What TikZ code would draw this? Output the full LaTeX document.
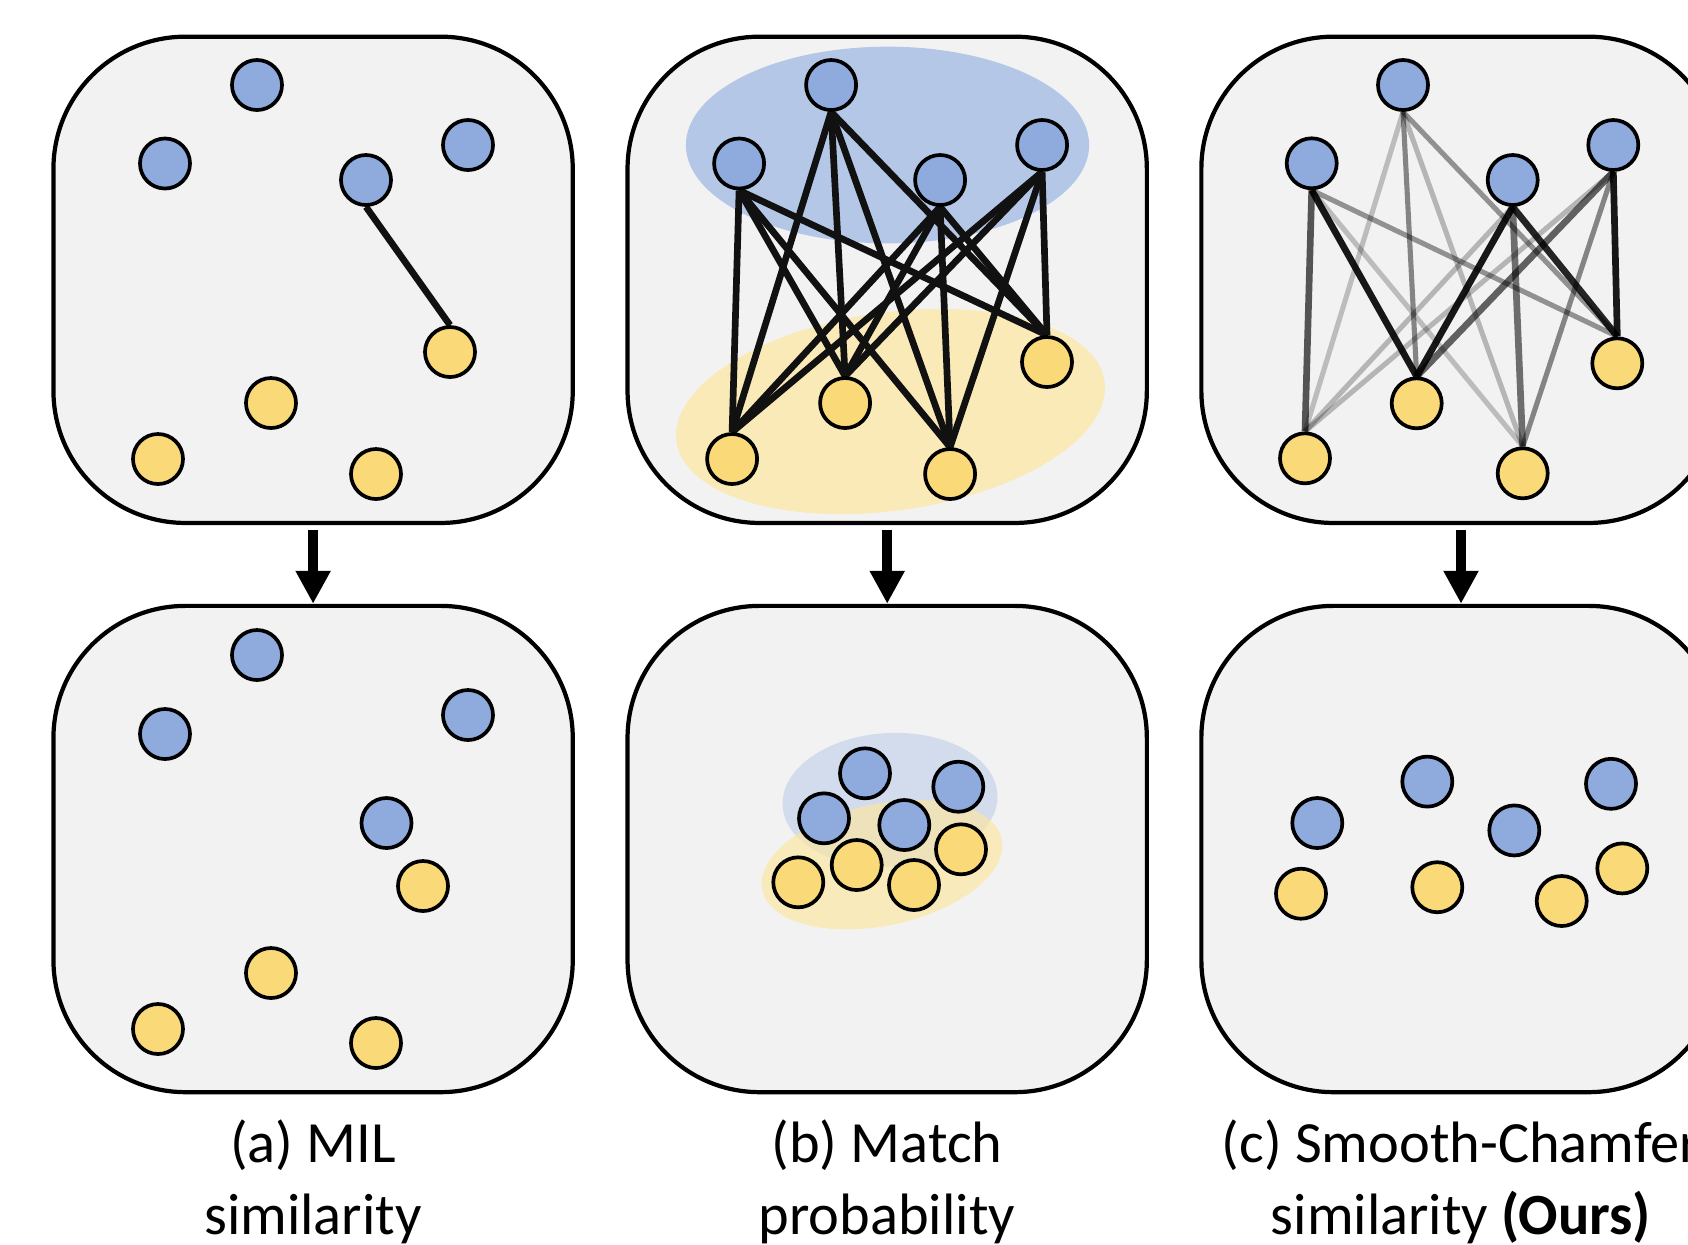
\documentclass[tikz,border=0pt]{standalone}
\usepackage{fontspec}
\setmainfont{Carlito}
\usetikzlibrary{arrows.meta}
\definecolor{boxfill}{HTML}{F2F2F2}
\definecolor{bluenode}{HTML}{8FAADC}
\definecolor{yellownode}{HTML}{F9D978}
\definecolor{blueblob}{HTML}{B4C7E7}
\definecolor{yellowblob}{HTML}{FFE699}
\definecolor{edgecol}{HTML}{111111}
\begin{document}
\begin{tikzpicture}[x=0.01cm,y=-0.01cm,
  panel/.style={draw=black, line width=1.2pt, fill=boxfill, rounded corners=1.32cm,
    minimum width=5.19cm, minimum height=4.86cm, inner sep=0pt},
  bnode/.style={circle, draw=black, line width=1.05pt, fill=bluenode, minimum size=0.5cm, inner sep=0pt},
  ynode/.style={circle, draw=black, line width=1.05pt, fill=yellownode, minimum size=0.5cm, inner sep=0pt},
  edge/.style={draw=edgecol, line width=1.9pt},
  softedge/.style={draw=black, line width=1.45pt, draw opacity=#1},
  hardedge/.style={draw=black, line width=1.9pt, draw opacity=#1},
  flow/.style={draw=black, line width=3pt, shorten <=0.05cm, -{Triangle[length=0.33cm, width=0.33cm]}},
  captext/.style={font=\fontsize{16.6pt}{20.4pt}\selectfont, inner sep=0pt, anchor=base}
]
\clip (0,0) rectangle (1688,1244);
\fill[white] (0,0) rectangle (1688,1244);

% ---------- panels ----------
\node[panel] (pa1) at (313.1,279.8) {};
\node[panel] (pb1) at (887.2,279.8) {};
\node[panel] (pc1) at (1461,279.8) {};
\node[panel] (pa2) at (313.1,849) {};
\node[panel] (pb2) at (887.2,849) {};
\node[panel] (pc2) at (1461,849) {};

% ---------- arrows ----------
\draw[flow] (pa1.south) -- (pa2.north);
\draw[flow] (pb1.south) -- (pb2.north);
\draw[flow] (pc1.south) -- (pc2.north);

% ---------- blobs (panel b) ----------
\fill[blueblob] (887.5,145) ellipse [x radius=2.015cm, y radius=0.983cm];
\fill[yellowblob, fill opacity=0.65, rotate around={8:(890.5,411.5)}] (890.5,411.5) ellipse [x radius=2.16cm, y radius=0.99cm];
\fill[blueblob, fill opacity=0.5, rotate around={3:(890,800)}] (890,800) ellipse [x radius=1.075cm, y radius=0.67cm];
\fill[yellowblob, fill opacity=0.6, rotate around={12:(882,864.7)}] (882,864.7) ellipse [x radius=1.223cm, y radius=0.608cm];

% ---------- panel a, top ----------
\node[bnode] (ab1) at (257,85) {};
\node[bnode] (ab2) at (165,163.5) {};
\node[ynode] (ay1) at (158,459) {};
\node[ynode] (ay2) at (271,403) {};
\node[ynode] (ay3) at (376,474) {};
\node[bnode] (ab4) at (468,145) {};

% ---------- panel b, top: centres ----------
\coordinate (bb1c) at (831.1,85);
\coordinate (bb2c) at (739.1,163.5);
\coordinate (bb3c) at (940.1,180);
\coordinate (bb4c) at (1042.1,145);
\coordinate (by1c) at (732.1,459);
\coordinate (by2c) at (845.1,403);
\coordinate (by3c) at (950.1,474);
\coordinate (by4c) at (1047,362);

% ---------- panel c, top: centres ----------
\coordinate (cb1c) at (1403,85);
\coordinate (cb2c) at (1311.7,163.3);
\coordinate (cb3c) at (1512.7,180);
\coordinate (cb4c) at (1613.3,145);
\coordinate (cy1c) at (1305,458.3);
\coordinate (cy2c) at (1416.7,403.3);
\coordinate (cy3c) at (1522.7,473.3);
\coordinate (cy4c) at (1617.3,363.3);

% invisible placeholder nodes so that edges can use anchors
\node[bnode, draw=none, fill=none] (ab3) at (366,180) {};
\node[ynode, draw=none, fill=none] (ay4) at (450,352) {};
\foreach \p in {b,c}{
  \foreach \i in {1,2,3,4}{
    \node[bnode, draw=none, fill=none] (\p b\i) at (\p b\i c) {};
    \node[ynode, draw=none, fill=none] (\p y\i) at (\p y\i c) {};
  }
}

% edges panel a
\draw[edge] (ab3.south) -- (ay4.north);
\node[bnode] at (366,180) {};
\node[ynode] at (450,352) {};

% edges panel b (complete bipartite)
\foreach \i in {1,2,3,4}{
  \foreach \j in {1,2,3,4}{
    \draw[edge] (bb\i.south) -- (by\j.north);
  }
}

% edges panel c (weighted)
\draw[softedge=0.22] (cb1.south) -- (cy1.north);
\draw[softedge=0.45] (cb1.south) -- (cy2.north);
\draw[softedge=0.25] (cb1.south) -- (cy3.north);
\draw[softedge=0.4]  (cb1.south) -- (cy4.north);
\draw[hardedge=0.65] (cb2.south) -- (cy1.north);
\draw[hardedge=0.9]  (cb2.south) -- (cy2.north);
\draw[softedge=0.22] (cb2.south) -- (cy3.north);
\draw[softedge=0.4]  (cb2.south) -- (cy4.north);
\draw[softedge=0.25] (cb3.south) -- (cy1.north);
\draw[hardedge=0.9]  (cb3.south) -- (cy2.north);
\draw[hardedge=0.55] (cb3.south) -- (cy3.north);
\draw[hardedge=0.85] (cb3.south) -- (cy4.north);
\draw[softedge=0.25] (cb4.south) -- (cy1.north);
\draw[hardedge=0.6]  (cb4.south) -- (cy2.north);
\draw[softedge=0.45] (cb4.south) -- (cy3.north);
\draw[hardedge=0.9]  (cb4.south) -- (cy4.north);

% visible nodes for b and c on top of edges
\foreach \p in {b,c}{
  \foreach \i in {1,2,3,4}{
    \node[bnode] at (\p b\i c) {};
    \node[ynode] at (\p y\i c) {};
  }
}

% ---------- bottom row ----------
\node[bnode] (ab5) at (257,655) {};
\node[bnode] (ab6) at (165,734) {};
\node[bnode] (ab7) at (468,715) {};
\node[bnode] (ab8) at (386.5,823) {};
\node[ynode] (ay5) at (423,886) {};
\node[ynode] (ay6) at (271,973) {};
\node[ynode] (ay7) at (158,1029) {};
\node[ynode] (ay8) at (376,1043) {};

\node[bnode] (bb5) at (865,773.3) {};
\node[bnode] (bb6) at (958.3,786.7) {};
\node[bnode] (bb7) at (824,818.3) {};
\node[bnode] (bb8) at (904.3,825) {};
\node[ynode] (by5) at (798.3,882.3) {};
\node[ynode] (by6) at (856.7,865) {};
\node[ynode] (by7) at (914,885) {};
\node[ynode] (by8) at (961,849.3) {};

\node[bnode] (cb5) at (1317.3,823) {};
\node[bnode] (cb6) at (1427.3,781.6) {};
\node[bnode] (cb7) at (1514.3,830.4) {};
\node[bnode] (cb8) at (1611,783.8) {};
\node[ynode] (cy5) at (1301,893.7) {};
\node[ynode] (cy6) at (1437.3,887.2) {};
\node[ynode] (cy7) at (1561.7,901) {};
\node[ynode] (cy8) at (1622.3,868.4) {};

% ---------- captions ----------
\node[captext] (capa1) at (313,1162) {(a) MIL};
\node[captext] (capa2) at (313,1234) {similarity};
\node[captext] (capb1) at (887,1162) {(b) Match};
\node[captext] (capb2) at (887,1234) {probability};
\node[captext] (capc1) at (1461,1162) {(c) Smooth-Chamfer};
\node[captext] (capc2) at (1461,1234) {similarity \textbf{(Ours)}};
\end{tikzpicture}
\end{document}
